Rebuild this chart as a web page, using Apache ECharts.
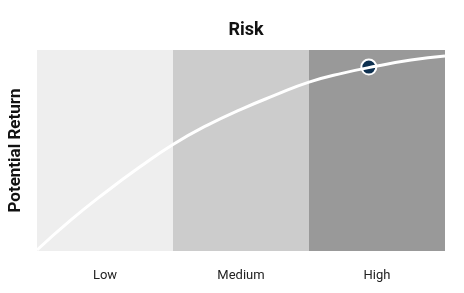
<!DOCTYPE html>
<html>
<head>
<meta charset="utf-8">
<script src="https://cdn.jsdelivr.net/npm/echarts@6/dist/echarts.min.js"></script>
<style>html,body{margin:0;padding:0;background:#fff}#c{width:464px;height:293px}</style>
</head>
<body>
<div id="c"></div>
<script>
var categories = ['Low', 'Medium', 'High'];
var bandColors = ['#eeeeee', '#cccccc', '#999999'];
var bandValues = [100, 100, 100];
var curveX = [0, 0.25, 0.5, 0.75, 1.0, 1.25, 1.5, 1.75, 2.0, 2.25, 2.5, 2.75, 3.0];
var curveY = [0.5, 15.5, 29, 41.5, 53, 62.5, 70.5, 77.5, 84, 88.5, 92, 95, 97];
var pointX = [2.44];
var pointY = [91.5];

var chart = echarts.init(document.getElementById('c'));
var font = 'Roboto, "Noto Sans", sans-serif';
chart.setOption({
  animation: false,
  title: {
    text: 'Risk', left: 241, top: 16, textAlign: 'center',
    textStyle: { fontFamily: font, fontWeight: 'bold', fontSize: 18, color: '#111' }
  },
  grid: { left: 37, right: 19, top: 50, bottom: 42, outerBoundsMode: 'none', containLabel: false },
  xAxis: [
    { type: 'category', data: categories, boundaryGap: true,
      axisLine: { show: false }, axisTick: { show: false },
      axisLabel: { margin: 18, fontFamily: font, fontSize: 13, color: '#222' } },
    { type: 'value', min: 0, max: 3, show: false }
  ],
  yAxis: [
    { type: 'value', min: 0, max: 100, name: 'Potential Return', nameLocation: 'middle',
      nameGap: 13, nameRotate: 90,
      nameTextStyle: { fontFamily: font, fontWeight: 'bold', fontSize: 17, color: '#111' },
      axisLine: { show: false }, axisTick: { show: false }, axisLabel: { show: false },
      splitLine: { show: false } }
  ],
  series: [
    { type: 'bar', xAxisIndex: 0, barCategoryGap: 0, silent: true,
      data: bandValues.map(function (v, i) { return { value: v, itemStyle: { color: bandColors[i] } }; }) },
    { type: 'line', xAxisIndex: 1, smooth: true, showSymbol: false, silent: true,
      lineStyle: { color: '#ffffff', width: 3 },
      data: curveX.map(function (x, i) { return [x, curveY[i]]; }) },
    { type: 'scatter', xAxisIndex: 1, symbolSize: 15, silent: true,
      itemStyle: { color: '#0d3050', borderColor: '#ffffff', borderWidth: 2, opacity: 1 },
      data: pointX.map(function (x, i) { return [x, pointY[i]]; }) }
  ]
});
</script>
</body>
</html>
